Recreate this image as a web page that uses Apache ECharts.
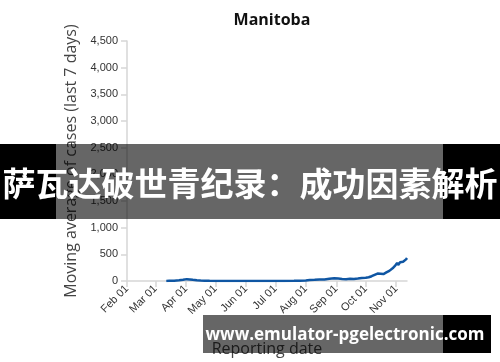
<!DOCTYPE html>
<html>
<head>
<meta charset="utf-8">
<script src="https://cdn.jsdelivr.net/npm/echarts@6/dist/echarts.min.js"></script>
<style>
html,body{margin:0;padding:0;background:#fff;}
#chart{width:500px;height:362px;}
</style>
</head>
<body>
<div id="chart"></div>
<script>
const chartTitle = 'Manitoba';
const yAxisName = 'Moving average of cases (last 7 days)';
const xAxisName = 'Reporting date';
const bannerText = '萨瓦达破世青纪录：成功因素解析';
const footerText = 'www.emulator-pgelectronic.com';
const monthNames = ['Jan','Feb','Mar','Apr','May','Jun','Jul','Aug','Sep','Oct','Nov','Dec'];
const yTicks = [0, 500, 1000, 1500, 2000, 2500, 3000, 3500, 4000, 4500];
const xMin = '2020-02-01';
const xMax = '2020-11-12';

const dates = [
 '2020-03-12','2020-03-15','2020-03-20','2020-03-25','2020-03-29','2020-04-02','2020-04-05','2020-04-08',
 '2020-04-12','2020-04-16','2020-04-20','2020-04-25','2020-05-01','2020-05-10','2020-05-20','2020-06-01',
 '2020-06-10','2020-06-20','2020-07-01','2020-07-10','2020-07-20','2020-07-26','2020-08-01','2020-08-05',
 '2020-08-10','2020-08-15','2020-08-20','2020-08-25','2020-08-30','2020-09-03','2020-09-07','2020-09-11',
 '2020-09-15','2020-09-19','2020-09-23','2020-09-27','2020-10-01','2020-10-04','2020-10-07','2020-10-10',
 '2020-10-13','2020-10-16','2020-10-19','2020-10-22','2020-10-25','2020-10-27','2020-10-29','2020-10-31',
 '2020-11-01','2020-11-02','2020-11-03','2020-11-04','2020-11-05','2020-11-06','2020-11-07','2020-11-08',
 '2020-11-09','2020-11-10','2020-11-11','2020-11-12'
];
const cases = [
 1,3,5,12,22,35,30,22,
 12,8,5,3,2,1,1,1,
 1,2,1,2,3,6,10,18,
 22,28,30,40,50,45,38,35,
 40,38,45,55,60,70,90,115,
 140,135,130,160,190,210,250,290,
 320,340,300,320,350,330,380,360,
 370,390,405,430
];

const chart = echarts.init(document.getElementById('chart'));
const seriesData = dates.map((d, i) => [d, cases[i]]);

chart.setOption({
  animation: false,
  backgroundColor: '#ffffff',
  title: {
    text: chartTitle,
    left: 267,
    top: 7,
    textAlign: 'center',
    textStyle: { fontFamily: 'Open Sans', fontWeight: 'bold', fontSize: 16, color: '#111' }
  },
  grid: { left: 127, right: 93, top: 41, bottom: 80, containLabel: false },
  xAxis: {
    type: 'time',
    min: xMin,
    max: xMax,
    minInterval: 28 * 86400000,
    maxInterval: 31 * 86400000,
    splitLine: { show: false },
    axisLine: { show: true, lineStyle: { color: '#d6d6d6', width: 1.5 } },
    axisTick: { show: true, length: 6, lineStyle: { color: '#d6d6d6', width: 1.5 } },
    axisLabel: {
      rotate: 45,
      fontFamily: 'Liberation Sans',
      fontSize: 11,
      color: '#333',
      margin: 6,
      showMaxLabel: false,
      hideOverlap: false,
      formatter: function (v) {
        const d = new Date(v);
        if (d.getDate() !== 1) return '';
        return monthNames[d.getMonth()] + ' 01';
      }
    },
    name: xAxisName,
    nameLocation: 'middle',
    nameGap: 60,
    nameTextStyle: { fontFamily: 'Open Sans', fontSize: 16, color: '#444' }
  },
  yAxis: {
    type: 'value',
    min: yTicks[0],
    max: yTicks[yTicks.length - 1],
    interval: 500,
    splitLine: { show: false },
    axisLine: { show: true, lineStyle: { color: '#d6d6d6', width: 1.5 } },
    axisTick: { show: true, length: 6, lineStyle: { color: '#d6d6d6', width: 1.5 } },
    axisLabel: {
      fontFamily: 'Liberation Sans',
      fontSize: 11,
      color: '#333',
      margin: 9,
      formatter: v => v.toLocaleString('en-US')
    },
    name: yAxisName,
    nameLocation: 'middle',
    nameRotate: 90,
    nameGap: 47,
    nameTextStyle: { fontFamily: 'Open Sans', fontSize: 16, color: '#444' }
  },
  series: [{
    type: 'line',
    data: seriesData,
    showSymbol: false,
    symbol: 'none',
    lineStyle: { color: '#0f56a3', width: 2.5 },
    z: 3
  }],
  graphic: [
    { type: 'rect', z: 100, shape: { x: 0, y: 144, width: 56, height: 75 }, style: { fill: '#000' } },
    { type: 'rect', z: 100, shape: { x: 443, y: 144, width: 57, height: 75 }, style: { fill: '#000' } },
    { type: 'rect', z: 100, shape: { x: 56, y: 144, width: 387, height: 75 }, style: { fill: 'rgba(0,0,0,0.6)' } },
    { type: 'text', z: 101, x: 250, y: 183, style: { text: bannerText, fill: '#fff', font: 'bold 33px "Noto Sans CJK SC"', textAlign: 'center', textVerticalAlign: 'middle' } },
    { type: 'rect', z: 100, shape: { x: 443, y: 315, width: 48, height: 38 }, style: { fill: '#000' } },
    { type: 'rect', z: 100, shape: { x: 203, y: 315, width: 240, height: 38 }, style: { fill: 'rgba(0,0,0,0.6)' } },
    { type: 'text', z: 101, x: 345, y: 335, style: { text: footerText, fill: '#fff', font: 'bold 17px "Open Sans"', textAlign: 'center', textVerticalAlign: 'middle' } }
  ]
});
</script>
</body>
</html>
